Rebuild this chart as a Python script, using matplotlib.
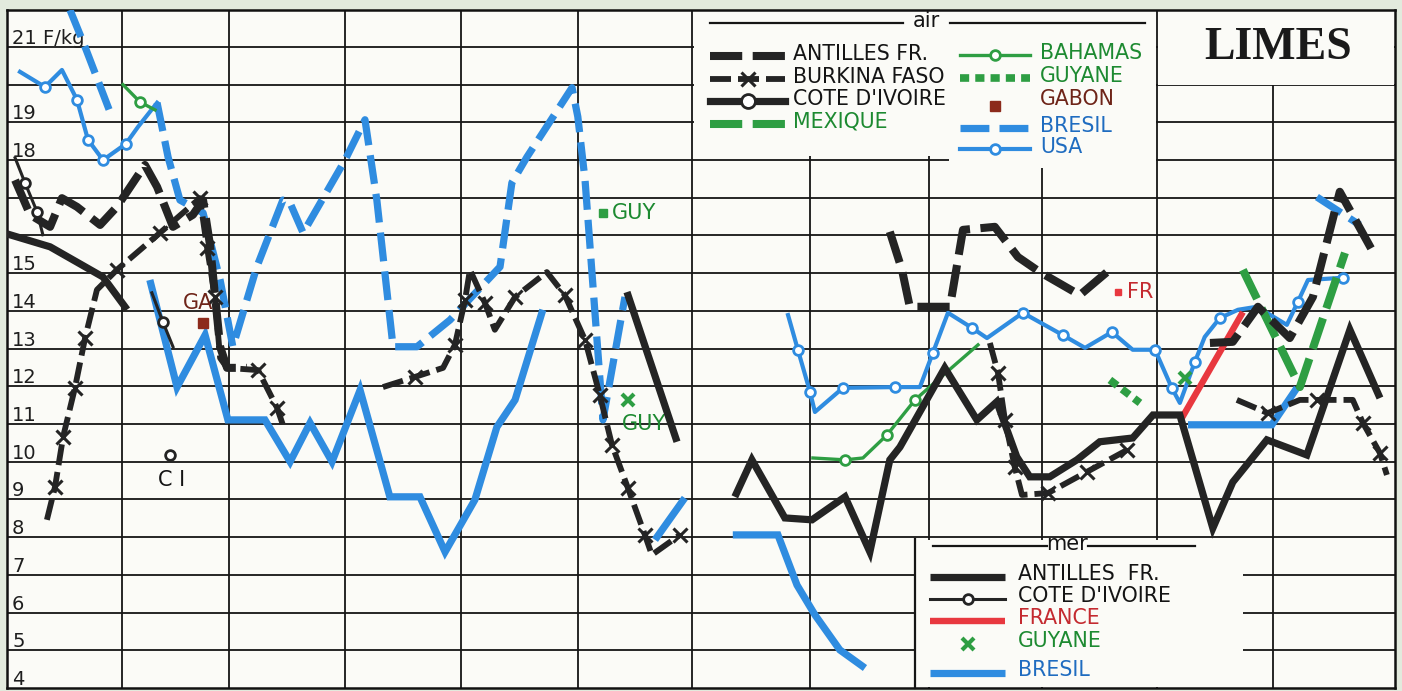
import matplotlib
matplotlib.use('Agg')
import matplotlib.pyplot as plt
import matplotlib.transforms as mtransforms
from matplotlib.lines import Line2D
from matplotlib.patches import Rectangle

# x = time in quarters (4 per grid column), y = price in F/kg
# every series is a list of separate segments

# ---- air ----
antilles_air_q = [[0.28, 0.80, 1.49, 1.90, 2.42, 3.22, 3.80, 4.77, 5.19, 5.74, 6.43, 6.78, 7.02, 7.37, 7.61, 8.30],
                  [30.53, 30.95, 31.22, 32.61, 33.06, 34.16, 34.96, 35.72, 37.10, 38.21],
                  [41.60, 42.39, 43.26, 44.36, 45.16, 46.09, 47.20]]
antilles_air_v = [[17.47, 16.55, 16.23, 16.99, 16.76, 16.28, 16.76, 17.87, 17.29, 16.23, 16.55, 16.94, 15.75, 13.05, 12.49, 12.49],
                  [16.10, 15.09, 14.11, 14.11, 16.15, 16.23, 15.43, 15.03, 14.42, 15.14],
                  [13.15, 13.18, 14.11, 13.28, 14.37, 17.16, 15.62]]

burkina_q = [[1.38, 1.66, 1.94, 2.35, 2.70, 3.11, 3.80, 5.29, 6.67, 6.92, 7.19, 7.37, 7.61, 8.68, 9.34, 9.54],
             [13.00, 14.11, 15.08, 15.49, 15.84, 16.01, 16.53, 16.87, 17.57, 18.67, 19.29, 19.99, 20.50, 20.92, 21.47, 22.06, 22.30, 23.27],
             [33.99, 34.27, 34.51, 34.85, 35.10, 36.00, 37.34, 38.73],
             [42.53, 43.60, 44.71, 45.30, 46.54, 46.89, 47.48, 47.72]]
burkina_v = [[8.46, 9.33, 10.66, 11.96, 13.28, 14.56, 15.09, 16.07, 16.99, 15.67, 14.37, 12.75, 12.49, 12.43, 11.43, 10.98],
             [11.98, 12.25, 12.49, 13.10, 14.29, 15.09, 14.21, 13.50, 14.37, 15.03, 14.42, 13.23, 11.77, 10.45, 9.31, 8.06, 7.53, 8.06],
             [13.15, 12.36, 11.11, 9.86, 9.12, 9.17, 9.73, 10.31],
             [11.64, 11.29, 11.64, 11.64, 11.64, 11.03, 10.23, 9.65]]
burkina_marked = [[1, 2, 3, 4, 6, 7, 8, 9, 10, 13, 14],
                  [1, 3, 4, 6, 8, 10, 11, 12, 13, 14, 15, 17],
                  [1, 2, 3, 5, 6, 7],
                  [1, 3, 5, 6]]

cote_air_q = [[0.10, 1.49, 3.32, 4.08]]
cote_air_v = [[16.02, 15.70, 14.90, 14.11]]

mexique_q = [[42.74, 44.71, 46.27]]
mexique_v = [[15.09, 11.98, 15.54]]

bahamas_q = [[4.01, 4.60, 5.12],
             [27.87, 28.98, 29.60, 30.43, 31.40, 32.26, 33.58]]
bahamas_v = [[20.00, 19.54, 19.33],
             [10.10, 10.05, 10.10, 10.71, 11.64, 12.22, 13.10]]
bahamas_marked = [[1], [1, 3, 4]]

guyane_air_q = [[38.14, 39.18]]
guyane_air_v = [[12.17, 11.56]]
guyane_air_pt = (20.61, 16.60)

gabon_pt = (6.78, 13.68)
france_air_pt = (38.42, 14.50)

bresil_air_q = [[2.18, 2.70, 3.56],
                [5.19, 5.57, 5.98, 6.78, 7.37, 7.81, 8.64, 9.54, 9.79, 10.24, 11.69, 12.38, 12.79, 13.35, 14.18,
                 15.32, 17.05, 17.46, 17.98, 19.54, 19.74, 19.99, 20.61, 21.37],
                [45.30, 46.78]]
bresil_air_v = [[21.98, 21.00, 19.28],
                [19.52, 18.08, 16.94, 16.60, 14.82, 13.05, 15.17, 16.94, 16.86, 16.07, 18.00, 19.07, 16.94, 13.05, 13.05,
                 13.76, 15.17, 17.40, 18.08, 19.92, 19.15, 17.47, 11.11, 14.37],
                [17.02, 16.28]]

usa_q = [[0.45, 1.31, 1.90, 2.42, 2.80, 3.32, 4.11, 4.53, 5.19],
         [27.01, 27.35, 27.77, 27.94, 28.91, 30.71, 31.57, 32.02, 32.54, 33.37, 33.89, 35.13, 36.51, 37.28,
          38.21, 38.93, 39.70, 40.28, 40.56, 41.08, 41.42, 41.94, 42.57, 43.22, 44.26, 44.64, 44.99, 46.20]]
usa_v = [[20.34, 19.94, 20.39, 19.60, 18.54, 18.00, 18.43, 18.88, 19.52],
         [13.89, 12.97, 11.85, 11.32, 11.96, 11.98, 11.98, 12.89, 13.95, 13.55, 13.28, 13.95, 13.36, 13.02,
          13.44, 12.97, 12.97, 11.96, 11.56, 12.65, 13.31, 13.81, 14.03, 14.11, 13.63, 14.24, 14.82, 14.88]]
usa_marked = [[1, 3, 4, 5, 6],
              [1, 2, 4, 5, 7, 9, 11, 12, 14, 16, 17, 19, 21, 25, 27]]

# ---- mer ----
antilles_mer_q = [[21.44, 23.17],
                  [25.17, 25.76, 26.90, 27.84, 28.98, 29.84, 30.53, 30.88, 32.43, 33.54, 34.23, 34.92, 35.37,
                   36.06, 37.00, 37.79, 38.93, 39.63, 40.56, 41.70, 42.39, 43.57, 44.95, 46.44, 47.48]]
antilles_mer_v = [[14.50, 10.53],
                  [9.07, 10.05, 8.51, 8.46, 9.07, 7.61, 10.05, 10.39, 12.49, 11.11, 11.59, 10.13, 9.60,
                   9.60, 10.05, 10.53, 10.63, 11.24, 11.24, 8.24, 9.46, 10.58, 10.18, 13.50, 11.69]]

cote_mer_q = [[0.28, 0.62, 1.04, 1.24], [5.01, 5.39, 5.74]]
cote_mer_v = [[18.06, 17.40, 16.63, 16.02], [14.48, 13.71, 13.05]]
cote_mer_marked = [[1, 2], [1]]
cote_mer_pt = (5.64, 10.18)

france_mer_q = [[40.63, 42.74]]
france_mer_v = [[11.16, 13.97]]

guyane_mer_q = [21.47, 40.73]
guyane_mer_v = [11.64, 12.22]

bresil_mer_q = [[4.94, 5.88, 6.85, 7.64, 8.92, 9.79, 10.48, 11.24, 12.21, 13.24, 14.28, 15.15, 16.18, 16.94, 17.57, 18.53],
                [22.41, 23.44],
                [25.10, 26.66, 27.32, 27.94, 28.80, 29.67],
                [40.84, 43.74, 44.61]]
bresil_mer_v = [[14.82, 11.98, 13.36, 11.11, 11.11, 10.00, 11.03, 10.00, 11.90, 9.07, 9.07, 7.61, 8.99, 10.92, 11.64, 14.03],
                [7.93, 9.04],
                [8.06, 8.06, 6.73, 5.94, 5.01, 4.53],
                [10.98, 10.98, 11.96]]

# grid
col_lines = [3.98, 7.68, 11.69, 15.70, 19.74, 23.69, 27.77, 31.88, 35.79, 39.76, 43.78]
row_lines = list(range(5, 22))
ylabels = {4: '4', 5: '5', 6: '6', 7: '7', 8: '8', 9: '9', 10: '10', 11: '11', 12: '12',
           13: '13', 14: '14', 15: '15', 18: '18', 19: '19', 21: '21 F/kg'}

BLACK = '#242424'
BLUE = '#2f8ce0'
GREEN = '#2e9e43'
RED = '#e8383f'
BROWN = '#8c2a1b'
T_BLACK = '#141414'
T_GREEN = '#1d8a31'
T_BLUE = '#1f6cc0'
T_RED = '#c42a30'
T_BROWN = '#6e2418'

st = {
    'antilles_air': dict(color=BLACK, lw=5.8, dashes=(4, 1.3), dash_capstyle='butt'),
    'burkina': dict(color=BLACK, lw=4.2, dashes=(3.6, 1.2), dash_capstyle='butt',
                    marker='x', ms=10, mew=2.2, mec=BLACK),
    'cote_air': dict(color=BLACK, lw=5.2, solid_joinstyle='round'),
    'mexique': dict(color=GREEN, lw=5.8, dashes=(4, 1.3), dash_capstyle='butt'),
    'bahamas': dict(color=GREEN, lw=2.4, marker='o', ms=7, mfc='white', mec=GREEN, mew=2),
    'guyane_air': dict(color=GREEN, lw=5.5, dashes=(1.2, 0.8), dash_capstyle='butt'),
    'bresil_air': dict(color=BLUE, lw=5.2, dashes=(4, 1.4), dash_capstyle='butt'),
    'usa': dict(color=BLUE, lw=3, marker='o', ms=7, mfc='white', mec=BLUE, mew=2),
    'antilles_mer': dict(color=BLACK, lw=5.2, solid_joinstyle='miter', solid_capstyle='butt'),
    'cote_mer': dict(color=BLACK, lw=2.2, marker='o', ms=7, mfc='white', mec=BLACK, mew=2),
    'france': dict(color=RED, lw=4.6, solid_capstyle='butt'),
    'bresil_mer': dict(color=BLUE, lw=5.2, solid_joinstyle='miter', solid_capstyle='butt'),
}
st['cote_air_leg'] = dict(st['cote_air'], marker='o', ms=10, mfc='white', mec=BLACK, mew=2)

W, H = 1402, 691
fig = plt.figure(figsize=(W / 100, H / 100), dpi=100, facecolor='#e2eadd')
# reference pixel space (y down) for the decorations
PX = mtransforms.Affine2D().scale(1 / W, -1 / H).translate(0, 1) + fig.transFigure

ax = fig.add_axes([7 / W, 3 / H, 1388 / W, 678 / H])
ax.set_facecolor('#fbfbf7')
ax.set_xlim(0, 48)
ax.set_ylim(4, 21.98)
ax.set_xticks([])
ax.set_yticks([])
for s in ax.spines.values():
    s.set_linewidth(1.8)
    s.set_color('#111111')

for v in row_lines:
    ax.axhline(v, color='#151515', lw=1.3, zorder=1)
for q in col_lines:
    ax.axvline(q, color='#151515', lw=1.3, zorder=1)

# white boxes (legend areas and title block)
for x0, y0, x1, y1 in [(694, 11, 949, 156), (949, 11, 1156, 168), (1158, 11, 1394, 85), (916, 540, 1243, 687)]:
    ax.add_patch(Rectangle((x0, y0), x1 - x0, y1 - y0, transform=PX, facecolor='#fbfbf7',
                           edgecolor='none', zorder=1.5))
fig.add_artist(Line2D([915, 915], [539, 688], transform=PX, color='#151515', lw=1.6))

for v, lab in ylabels.items():
    ax.annotate(lab, xy=(0, v), xycoords=('axes fraction', 'data'), xytext=(5, 3),
                textcoords='offset pixels', va='baseline', ha='left', fontsize=14,
                color='#1e1e1e', zorder=2)


def draw(qs, vs, style, z, marked=None):
    for i, (q, v) in enumerate(zip(qs, vs)):
        kw = dict(style)
        if marked is not None:
            kw['markevery'] = marked[i]
        ax.plot(q, v, zorder=z, **kw)


draw(bresil_mer_q, bresil_mer_v, st['bresil_mer'], 3)
draw(bresil_air_q, bresil_air_v, st['bresil_air'], 3.1)
draw(usa_q, usa_v, st['usa'], 3.2, usa_marked)
draw(bahamas_q, bahamas_v, st['bahamas'], 3.4, bahamas_marked)
draw(guyane_air_q, guyane_air_v, st['guyane_air'], 3.4)
draw(mexique_q, mexique_v, st['mexique'], 3.4)
draw(france_mer_q, france_mer_v, st['france'], 3.5)
draw(cote_air_q, cote_air_v, st['cote_air'], 4)
draw(antilles_mer_q, antilles_mer_v, st['antilles_mer'], 4)
draw(antilles_air_q, antilles_air_v, st['antilles_air'], 4.1)
draw(burkina_q, burkina_v, st['burkina'], 4.2, burkina_marked)
draw(cote_mer_q, cote_mer_v, st['cote_mer'], 4.3, cote_mer_marked)

# single points with their labels
ax.plot(*guyane_air_pt, marker='s', ms=6, color=GREEN, ls='none', zorder=5)
ax.annotate('GUY', xy=guyane_air_pt, xytext=(9, 0), textcoords='offset pixels', va='center',
            fontsize=15, color=T_GREEN)
ax.plot(guyane_mer_q, guyane_mer_v, marker='x', ms=8, mew=3, color=GREEN, ls='none', zorder=5)
ax.annotate('GUY', xy=(guyane_mer_q[0], guyane_mer_v[0]), xytext=(-6, -24), textcoords='offset pixels',
            va='center', ha='left', fontsize=15, color=T_GREEN)
ax.plot(*gabon_pt, marker='s', ms=7, color=BROWN, ls='none', zorder=5)
ax.annotate('GA', xy=gabon_pt, xytext=(-5, 20), textcoords='offset pixels', va='center', ha='center',
            fontsize=15, color=T_BROWN, zorder=6)
ax.plot(*france_air_pt, marker='s', ms=5, color=RED, ls='none', zorder=5)
ax.annotate('FR', xy=france_air_pt, xytext=(9, 0), textcoords='offset pixels', va='center',
            fontsize=15, color=T_RED)
ax.plot(*cote_mer_pt, marker='o', ms=7, mfc='white', mec=BLACK, mew=2, ls='none', zorder=5)
ax.annotate('C I', xy=cote_mer_pt, xytext=(1, -25), textcoords='offset pixels', va='center', ha='center',
            fontsize=15, color=T_BLACK)

# title block
fig.text(1278, 48, 'LIMES', transform=PX, ha='center', va='center', fontsize=33,
         fontweight='bold', family='Liberation Serif', color='#1a1a1a')


def sample(x0, x1, y, style):
    kw = dict(style)
    if 'marker' in kw:
        kw['markevery'] = [1]
    fig.add_artist(Line2D([x0, (x0 + x1) / 2, x1], [y, y, y], transform=PX, **kw))


def header(x0, x1, x2, x3, y, word):
    fig.add_artist(Line2D([x0, x1], [y, y], transform=PX, color='#151515', lw=1.6))
    fig.add_artist(Line2D([x2, x3], [y, y], transform=PX, color='#151515', lw=1.6))
    fig.text((x1 + x2) / 2, y - 2, word, transform=PX, ha='center', va='center', fontsize=15,
             color=T_BLACK)


header(710, 903, 950, 1145, 23, 'air')
air_left = [('ANTILLES FR.', 'antilles_air', T_BLACK, 56),
            ('BURKINA FASO', 'burkina', T_BLACK, 79),
            ("COTE D'IVOIRE", 'cote_air_leg', T_BLACK, 101),
            ('MEXIQUE', 'mexique', T_GREEN, 124)]
air_right = [('BAHAMAS', 'bahamas', T_GREEN, 55),
             ('GUYANE', 'guyane_air', T_GREEN, 78),
             ('GABON', None, T_BROWN, 101),
             ('BRESIL', 'bresil_air', T_BLUE, 128),
             ('USA', 'usa', T_BLUE, 149)]
for lab, key, col, y in air_left:
    sample(710, 785, y, st[key])
    fig.text(793, y - 2, lab, transform=PX, ha='left', va='center', fontsize=14.8, color=col)
for lab, key, col, y in air_right:
    if key is None:
        fig.add_artist(Line2D([995], [y + 5], transform=PX, marker='s', ms=7, color=BROWN, ls='none'))
    else:
        sample(960, 1030, y, st[key])
    fig.text(1040, y - 2, lab, transform=PX, ha='left', va='center', fontsize=14.8, color=col)

header(933, 1047, 1088, 1195, 546, 'mer')
mer_rows = [('ANTILLES  FR.', 'antilles_mer', T_BLACK, 577),
            ("COTE D'IVOIRE", 'cote_mer', T_BLACK, 599),
            ('FRANCE', 'france', T_RED, 621),
            ('GUYANE', None, T_GREEN, 644),
            ('BRESIL', 'bresil_mer', T_BLUE, 673)]
for lab, key, col, y in mer_rows:
    if key is None:
        fig.add_artist(Line2D([968], [y], transform=PX, marker='x', ms=8, mew=3, color=GREEN, ls='none'))
    else:
        sample(930, 1005, y, st[key])
    fig.text(1018, y - 3, lab, transform=PX, ha='left', va='center', fontsize=14.8, color=col)

fig.savefig('out.png', dpi=100, facecolor=fig.get_facecolor())
